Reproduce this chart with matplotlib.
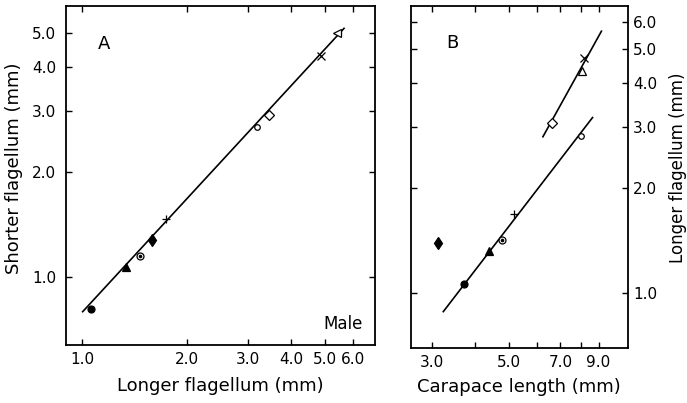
import matplotlib
matplotlib.use("Agg")
import matplotlib.pyplot as plt
from matplotlib.ticker import FixedLocator, FixedFormatter, NullLocator

# ---- Panel A data (male) ----
A_longer = [1.06, 1.34, 1.47, 1.59, 1.75, 3.19, 3.46, 4.87, 5.40]
A_shorter = [0.81, 1.07, 1.15, 1.28, 1.47, 2.69, 2.91, 4.31, 5.02]
A_fit_x = [1.005, 5.67]
A_fit_y = [0.796, 5.16]

# ---- Panel B data ----
B_carapace = [3.13, 3.72, 4.39, 4.78, 5.17, 8.02, 6.63, 8.06, 8.18]
B_longer = [1.39, 1.06, 1.32, 1.42, 1.69, 2.82, 3.08, 4.34, 4.74]
B_fit_low_x = [3.24, 8.65]
B_fit_low_y = [0.886, 3.19]
B_fit_up_x = [6.24, 9.17]
B_fit_up_y = [2.81, 5.64]

A_xticks = [1, 2, 3, 4, 5, 6]
A_xticklabels = ["1.0", "2.0", "3.0", "4.0", "5.0", "6.0"]
A_yticks = [1, 2, 3, 4, 5]
A_yticklabels = ["1.0", "2.0", "3.0", "4.0", "5.0"]
B_xticks = [3, 4, 5, 6, 7, 8, 9]
B_xticklabels = ["3.0", "", "5.0", "", "7.0", "", "9.0"]
B_yticks = [1, 2, 3, 4, 5, 6]
B_yticklabels = ["1.0", "2.0", "3.0", "4.0", "5.0", "6.0"]

# marker styles: (marker, filled, size)
A_styles = [("o", True, 5), ("^", True, 6), ("circdot", False, 5), ("d", True, 6),
            ("+", False, 6), ("o", False, 4), ("D", False, 5), ("x", False, 6), ("<", False, 6)]
B_styles = [("d", True, 6.5), ("o", True, 5), ("^", True, 6), ("circdot", False, 5),
            ("+", False, 6), ("o", False, 4), ("D", False, 5), ("^", False, 6), ("x", False, 6)]

plt.rcParams['font.family'] = ['DejaVu Sans']

fig = plt.figure(figsize=(6.87, 4.03), dpi=100)
axA = fig.add_axes([66/687, 1-345/403, 309/687, 339/403])
axB = fig.add_axes([411/687, 1-348/403, 216.7/687, 342/403])


def draw_points(ax, xs, ys, styles):
    for x, y, (m, filled, s) in zip(xs, ys, styles):
        if m == "circdot":
            ax.plot([x], [y], marker="o", ms=s, mfc="white", mec="black", mew=0.9, ls="none", zorder=3)
            ax.plot([x], [y], marker="o", ms=1.6, mfc="black", mec="black", ls="none", zorder=4)
        elif m in ("+", "x"):
            ax.plot([x], [y], marker=m, ms=s, color="black", mew=0.9, ls="none", zorder=3)
        else:
            ax.plot([x], [y], marker=m, ms=s, mfc="black" if filled else "white",
                    mec="black", mew=0.9, ls="none", zorder=3)


for ax in (axA, axB):
    ax.set_xscale("log")
    ax.set_yscale("log")
    for sp in ax.spines.values():
        sp.set_linewidth(1.3)
    ax.tick_params(which="both", direction="in", length=4, width=1.0,
                   top=True, right=True, labelsize=11)
    ax.xaxis.set_minor_locator(NullLocator())
    ax.yaxis.set_minor_locator(NullLocator())

# Panel A
axA.plot(A_fit_x, A_fit_y, color="black", lw=1.2, zorder=2)
draw_points(axA, A_longer, A_shorter, A_styles)
axA.set_xlim(0.9, 6.96)
axA.set_ylim(0.639, 5.98)
axA.xaxis.set_major_locator(FixedLocator(A_xticks))
axA.xaxis.set_major_formatter(FixedFormatter(A_xticklabels))
axA.yaxis.set_major_locator(FixedLocator(A_yticks))
axA.yaxis.set_major_formatter(FixedFormatter(A_yticklabels))
axA.tick_params(axis="y", pad=7)
axA.tick_params(axis="x", pad=5)
axA.set_xlabel("Longer flagellum (mm)", fontsize=13, labelpad=7)
axA.set_ylabel("Shorter flagellum (mm)", fontsize=13)
axA.yaxis.set_label_coords(-0.139, 0.52)
axA.text(0.104, 0.873, "A", transform=axA.transAxes, fontsize=13)
axA.text(0.961, 0.047, "Male", transform=axA.transAxes, fontsize=12, ha="right")

# Panel B
axB.plot(B_fit_low_x, B_fit_low_y, color="black", lw=1.2, zorder=2)
axB.plot(B_fit_up_x, B_fit_up_y, color="black", lw=1.2, zorder=2)
draw_points(axB, B_carapace, B_longer, B_styles)
axB.set_xlim(2.62, 10.9)
axB.set_ylim(0.697, 6.66)
axB.xaxis.set_major_locator(FixedLocator(B_xticks))
axB.xaxis.set_major_formatter(FixedFormatter(B_xticklabels))
axB.yaxis.set_major_locator(FixedLocator(B_yticks))
axB.yaxis.set_major_formatter(FixedFormatter(B_yticklabels))
axB.tick_params(axis="y", labelleft=False, labelright=True, pad=4)
axB.tick_params(axis="x", pad=5)
axB.yaxis.set_label_position("right")
axB.set_ylabel("Longer flagellum (mm)", fontsize=12)
axB.yaxis.set_label_coords(1.19, 0.526)
axB.set_xlabel("Carapace length (mm)", fontsize=13, labelpad=6)
axB.text(0.161, 0.877, "B", transform=axB.transAxes, fontsize=13)

fig.savefig("out.png", dpi=100)
